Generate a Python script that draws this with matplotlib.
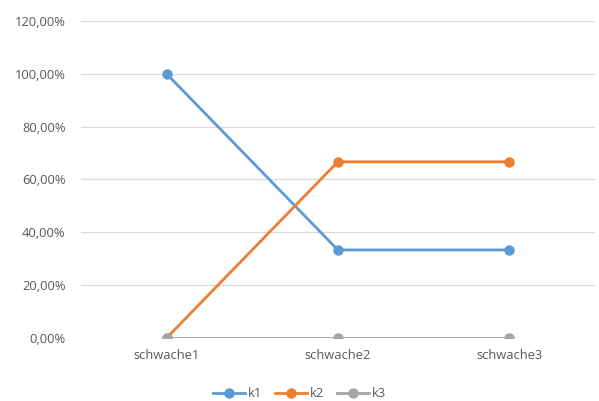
import matplotlib.pyplot as plt
from matplotlib.ticker import FuncFormatter

# categories and series shares
categories = ['schwache1', 'schwache2', 'schwache3']
k1 = [1.0, 1/3, 1/3]
k2 = [0.0, 2/3, 2/3]
k3 = [0.0, 0.0, 0.0]

colors = {'k1': '#5B9BD5', 'k2': '#ED7D31', 'k3': '#A5A5A5'}

plt.rcParams['font.family'] = ['Open Sans', 'DejaVu Sans']

fig = plt.figure(figsize=(5.99, 4.01), dpi=100)
ax = fig.add_axes([0.135, 0.157, 0.858, 0.791])

x = range(len(categories))
for name, vals in (('k1', k1), ('k2', k2), ('k3', k3)):
    ax.plot(x, vals, color=colors[name], lw=2.0, marker='o', ms=6.5,
            label=name, zorder=3)

ax.set_xlim(-0.5, 2.5)
ax.set_ylim(0, 1.2)
ax.set_yticks([0, 0.2, 0.4, 0.6, 0.8, 1.0, 1.2])
ax.yaxis.set_major_formatter(FuncFormatter(
    lambda v, p: ('%.2f%%' % (v * 100)).replace('.', ',')))
ax.set_xticks(list(x))
ax.set_xticklabels(categories)

ax.grid(axis='y', color='#D9D9D9', lw=0.9)
ax.set_axisbelow(True)
for s in ax.spines.values():
    s.set_visible(False)
ax.tick_params(length=0, colors='#595959', labelsize=9.3)
ax.tick_params(axis='y', pad=11)
ax.tick_params(axis='x', pad=8)

fig.legend(loc='lower center', bbox_to_anchor=(0.5, -0.027), ncol=3,
           frameon=False, fontsize=9.3, labelcolor='#595959',
           handlelength=2.5, handletextpad=0.2, columnspacing=1.0)

fig.savefig('out.png', dpi=100)
